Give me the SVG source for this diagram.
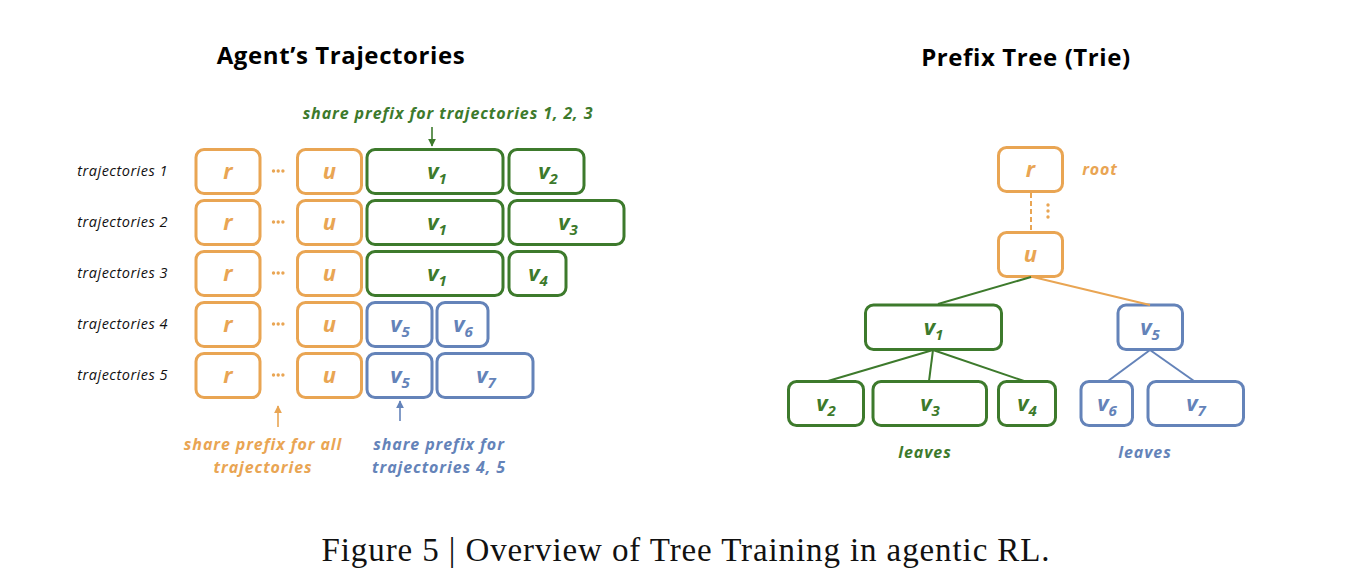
<svg xmlns="http://www.w3.org/2000/svg" width="1364" height="585" viewBox="0 0 1364 585">
<defs>
<style>
.o{fill:none;stroke:#E9A553;stroke-width:3}
.g{fill:none;stroke:#3D7A2C;stroke-width:3}
.b{fill:none;stroke:#6483B9;stroke-width:3}
.lbl{font-family:"Open Sans","DejaVu Sans",sans-serif;font-weight:700;font-style:italic;font-size:22px;text-anchor:middle}
.sub{font-size:15px}
.to{fill:#E9A553}
.tg{fill:#3D7A2C}
.tb{fill:#6483B9}
.row{font-family:"Open Sans","DejaVu Sans",sans-serif;font-style:italic;font-size:14.5px;letter-spacing:0.5px;fill:#111;text-anchor:end}
.ann{font-family:"Open Sans","DejaVu Sans",sans-serif;font-weight:700;font-style:italic;font-size:16px;letter-spacing:0.9px;text-anchor:middle}
.title{font-family:"Open Sans","DejaVu Sans",sans-serif;font-weight:700;font-size:24px;letter-spacing:0.6px;fill:#000;text-anchor:middle}
.cap{font-family:"Liberation Serif","Times New Roman",serif;font-size:33px;letter-spacing:0.9px;fill:#111;text-anchor:middle}
</style>
<marker id="ag" viewBox="0 0 10 10" refX="9" refY="5" markerWidth="8" markerHeight="8" markerUnits="userSpaceOnUse" orient="auto"><path d="M0,0 L10,5 L0,10 z" fill="#3D7A2C"/></marker>
<marker id="ao" viewBox="0 0 10 10" refX="9" refY="5" markerWidth="8" markerHeight="8" markerUnits="userSpaceOnUse" orient="auto"><path d="M0,0 L10,5 L0,10 z" fill="#E9A553"/></marker>
<marker id="ab" viewBox="0 0 10 10" refX="9" refY="5" markerWidth="8" markerHeight="8" markerUnits="userSpaceOnUse" orient="auto"><path d="M0,0 L10,5 L0,10 z" fill="#6483B9"/></marker>
</defs>
<rect width="1364" height="585" fill="#fff"/>

<text class="title" x="341" y="64">Agent’s Trajectories</text>
<text class="title" x="1026" y="66">Prefix Tree (Trie)</text>

<g id="row-labels">
<text class="row" x="168" y="176">trajectories 1</text>
<text class="row" x="168" y="227">trajectories 2</text>
<text class="row" x="168" y="278">trajectories 3</text>
<text class="row" x="168" y="329">trajectories 4</text>
<text class="row" x="168" y="380">trajectories 5</text>
</g>

<g id="traj1">
<rect class="o" x="196" y="149.5" width="64" height="44" rx="8"/><text class="lbl to" x="228" y="179">r</text>
<g class="to"><circle cx="273.5" cy="171" r="1.7"/><circle cx="278.2" cy="171" r="1.7"/><circle cx="282.9" cy="171" r="1.7"/></g>
<rect class="o" x="297.5" y="149.5" width="64" height="44" rx="8"/><text class="lbl to" x="329.5" y="179">u</text>
<rect class="g" x="367" y="149.5" width="136" height="44" rx="8"/><text class="lbl tg" x="437" y="179">v<tspan class="sub" dy="5">1</tspan></text>
<rect class="g" x="509" y="149.5" width="75" height="44" rx="8"/><text class="lbl tg" x="548" y="179">v<tspan class="sub" dy="5">2</tspan></text>
</g>
<g id="traj2">
<rect class="o" x="196" y="200.5" width="64" height="44" rx="8"/><text class="lbl to" x="228" y="230">r</text>
<g class="to"><circle cx="273.5" cy="222" r="1.7"/><circle cx="278.2" cy="222" r="1.7"/><circle cx="282.9" cy="222" r="1.7"/></g>
<rect class="o" x="297.5" y="200.5" width="64" height="44" rx="8"/><text class="lbl to" x="329.5" y="230">u</text>
<rect class="g" x="367" y="200.5" width="136" height="44" rx="8"/><text class="lbl tg" x="437" y="230">v<tspan class="sub" dy="5">1</tspan></text>
<rect class="g" x="509" y="200.5" width="115" height="44" rx="8"/><text class="lbl tg" x="568" y="230">v<tspan class="sub" dy="5">3</tspan></text>
</g>
<g id="traj3">
<rect class="o" x="196" y="251.5" width="64" height="44" rx="8"/><text class="lbl to" x="228" y="281">r</text>
<g class="to"><circle cx="273.5" cy="273" r="1.7"/><circle cx="278.2" cy="273" r="1.7"/><circle cx="282.9" cy="273" r="1.7"/></g>
<rect class="o" x="297.5" y="251.5" width="64" height="44" rx="8"/><text class="lbl to" x="329.5" y="281">u</text>
<rect class="g" x="367" y="251.5" width="136" height="44" rx="8"/><text class="lbl tg" x="437" y="281">v<tspan class="sub" dy="5">1</tspan></text>
<rect class="g" x="509" y="251.5" width="57" height="44" rx="8"/><text class="lbl tg" x="538" y="281">v<tspan class="sub" dy="5">4</tspan></text>
</g>
<g id="traj4">
<rect class="o" x="196" y="302.5" width="64" height="44" rx="8"/><text class="lbl to" x="228" y="332">r</text>
<g class="to"><circle cx="273.5" cy="324" r="1.7"/><circle cx="278.2" cy="324" r="1.7"/><circle cx="282.9" cy="324" r="1.7"/></g>
<rect class="o" x="297.5" y="302.5" width="64" height="44" rx="8"/><text class="lbl to" x="329.5" y="332">u</text>
<rect class="b" x="367" y="302.5" width="65" height="44" rx="8"/><text class="lbl tb" x="400" y="332">v<tspan class="sub" dy="5">5</tspan></text>
<rect class="b" x="437" y="302.5" width="51" height="44" rx="8"/><text class="lbl tb" x="463" y="332">v<tspan class="sub" dy="5">6</tspan></text>
</g>
<g id="traj5">
<rect class="o" x="196" y="353.5" width="64" height="44" rx="8"/><text class="lbl to" x="228" y="383">r</text>
<g class="to"><circle cx="273.5" cy="375" r="1.7"/><circle cx="278.2" cy="375" r="1.7"/><circle cx="282.9" cy="375" r="1.7"/></g>
<rect class="o" x="297.5" y="353.5" width="64" height="44" rx="8"/><text class="lbl to" x="329.5" y="383">u</text>
<rect class="b" x="367" y="353.5" width="65" height="44" rx="8"/><text class="lbl tb" x="400" y="383">v<tspan class="sub" dy="5">5</tspan></text>
<rect class="b" x="437" y="353.5" width="96" height="44" rx="8"/><text class="lbl tb" x="486" y="383">v<tspan class="sub" dy="5">7</tspan></text>
</g>

<g id="annotations">
<text class="ann tg" x="448" y="119">share prefix for trajectories 1, 2, 3</text>
<text class="ann to" x="263" y="450">share prefix for all</text>
<text class="ann to" x="263" y="472.5">trajectories</text>
<text class="ann tb" x="439" y="450">share prefix for</text>
<text class="ann tb" x="439" y="472.5">trajectories 4, 5</text>
</g>

<g id="tree-nodes">
<g id="t-r"><rect class="o" x="998.5" y="147.5" width="64" height="44" rx="8"/><text class="lbl to" x="1030.5" y="177">r</text></g>
<text class="ann to" x="1100" y="175">root</text>
<g class="to" id="t-dots"><circle cx="1048" cy="205" r="1.7"/><circle cx="1048" cy="211" r="1.7"/><circle cx="1048" cy="217" r="1.7"/></g>
<g id="t-u"><rect class="o" x="998.5" y="232.5" width="64" height="44" rx="8"/><text class="lbl to" x="1030.5" y="262">u</text></g>
<g id="t-v1"><rect class="g" x="865.5" y="305" width="136" height="44.5" rx="8"/><text class="lbl tg" x="933.5" y="334.5">v<tspan class="sub" dy="5">1</tspan></text></g>
<g id="t-v5"><rect class="b" x="1118" y="305" width="64.5" height="44.5" rx="8"/><text class="lbl tb" x="1150" y="334.5">v<tspan class="sub" dy="5">5</tspan></text></g>
<g id="t-v2"><rect class="g" x="788.5" y="381.5" width="75" height="44" rx="8"/><text class="lbl tg" x="826" y="411">v<tspan class="sub" dy="5">2</tspan></text></g>
<g id="t-v3"><rect class="g" x="873" y="381.5" width="113.5" height="44" rx="8"/><text class="lbl tg" x="930" y="411">v<tspan class="sub" dy="5">3</tspan></text></g>
<g id="t-v4"><rect class="g" x="998.5" y="381.5" width="57" height="44" rx="8"/><text class="lbl tg" x="1027" y="411">v<tspan class="sub" dy="5">4</tspan></text></g>
<g id="t-v6"><rect class="b" x="1081" y="381.5" width="51.5" height="44" rx="8"/><text class="lbl tb" x="1107" y="411">v<tspan class="sub" dy="5">6</tspan></text></g>
<g id="t-v7"><rect class="b" x="1148" y="381.5" width="95.5" height="44" rx="8"/><text class="lbl tb" x="1196" y="411">v<tspan class="sub" dy="5">7</tspan></text></g>
<text class="ann tg" x="925" y="458">leaves</text>
<text class="ann tb" x="1145" y="458">leaves</text>
</g>

<g id="connectors" fill="none">
<line x1="432" y1="127" x2="432" y2="146" stroke="#3D7A2C" stroke-width="1.6" marker-end="url(#ag)"/>
<line x1="278" y1="427" x2="278" y2="406" stroke="#E9A553" stroke-width="1.6" marker-end="url(#ao)"/>
<line x1="400" y1="421" x2="400" y2="401" stroke="#6483B9" stroke-width="1.6" marker-end="url(#ab)"/>
<line x1="1031" y1="193" x2="1031" y2="231" stroke="#E9A553" stroke-width="2" stroke-dasharray="5,3"/>
<line x1="1031" y1="277" x2="938" y2="304" stroke="#3D7A2C" stroke-width="2"/>
<line x1="1033" y1="277" x2="1150" y2="305" stroke="#E9A553" stroke-width="2"/>
<line x1="933" y1="350" x2="828" y2="381" stroke="#3D7A2C" stroke-width="2"/>
<line x1="933" y1="350" x2="929" y2="381" stroke="#3D7A2C" stroke-width="2"/>
<line x1="933" y1="350" x2="1024" y2="381" stroke="#3D7A2C" stroke-width="2"/>
<line x1="1150" y1="350" x2="1108" y2="381" stroke="#6483B9" stroke-width="2"/>
<line x1="1150" y1="350" x2="1194" y2="381" stroke="#6483B9" stroke-width="2"/>
</g>

<text class="cap" x="686" y="561">Figure 5 | Overview of Tree Training in agentic RL.</text>
</svg>
